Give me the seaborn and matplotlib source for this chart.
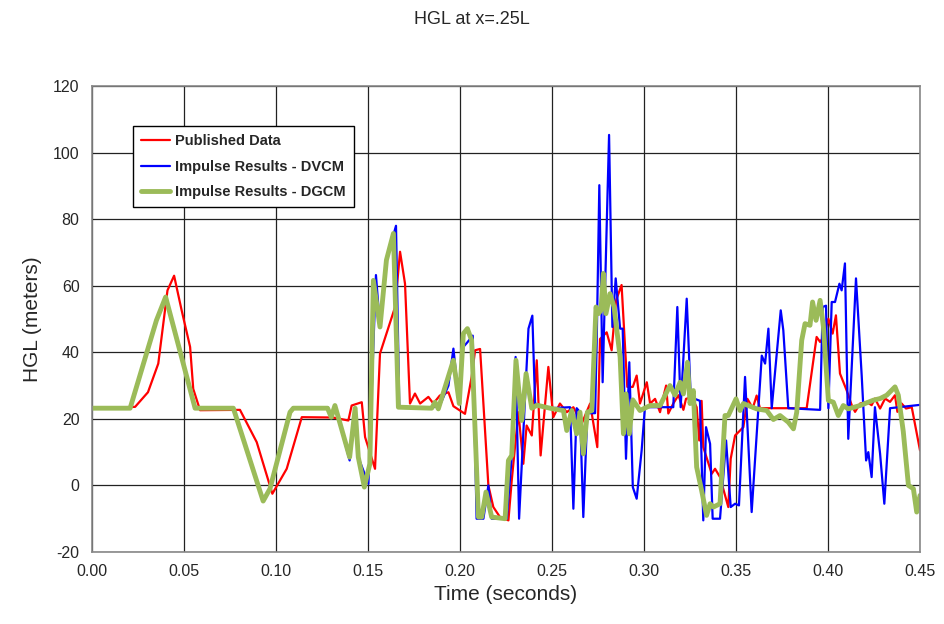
import numpy as np
import matplotlib
matplotlib.use("Agg")
import matplotlib.pyplot as plt
import seaborn as sns

# Published data (red)
t_pub = [0.0, 0.0234, 0.0304, 0.036, 0.041, 0.0446, 0.0487, 0.0533, 0.055, 0.0587,
         0.0804, 0.0895, 0.098, 0.1058, 0.114, 0.131, 0.1393, 0.1411, 0.1466, 0.1484,
         0.1538, 0.1565, 0.1647, 0.1674, 0.1701, 0.1719, 0.1728, 0.1755, 0.1783, 0.1828,
         0.1855, 0.189, 0.1937, 0.1964, 0.2027, 0.2063, 0.2082, 0.2109, 0.2154, 0.2181,
         0.2217, 0.2263, 0.2281, 0.2317, 0.2344, 0.2362, 0.239, 0.2417, 0.2438, 0.248,
         0.2507, 0.2543, 0.258, 0.2616, 0.2661, 0.2707, 0.2746, 0.2761, 0.2797, 0.2824,
         0.2848, 0.2878, 0.2909, 0.2939, 0.296, 0.2978, 0.3015, 0.3033, 0.306, 0.3087,
         0.3105, 0.312, 0.3132, 0.3159, 0.3187, 0.3214, 0.3228, 0.3259, 0.3286, 0.33,
         0.3313, 0.3322, 0.3368, 0.3386, 0.3413, 0.3458, 0.3471, 0.3495, 0.354, 0.3562,
         0.3591, 0.3612, 0.363, 0.3884, 0.3938, 0.3957, 0.3975, 0.4002, 0.4025, 0.4043,
         0.4065, 0.4101, 0.4129, 0.4147, 0.4174, 0.421, 0.4237, 0.4255, 0.4283, 0.431,
         0.4337, 0.4364, 0.4377, 0.44, 0.4424, 0.4455, 0.45]
hgl_pub = [23.2, 23.6, 28.0, 36.6, 58.6, 63.0, 52.6, 41.6, 29.0, 22.6,
           22.7, 13.0, -2.5, 5.0, 20.5, 20.4, 19.5, 24.0, 25.0, 14.5,
           5.0, 39.6, 53.6, 70.2, 60.6, 36.6, 24.6, 27.6, 24.6, 26.6,
           24.6, 27.0, 28.0, 23.8, 21.5, 32.6, 40.6, 41.0, 0.0, -6.5,
           -9.5, -10.5, 1.5, 22.0, 6.5, 18.0, 15.0, 37.6, 9.0, 35.6,
           20.5, 24.6, 22.0, 23.5, 18.5, 24.6, 11.5, 44.0, 46.0, 40.6,
           55.6, 60.2, 29.6, 29.6, 33.0, 24.6, 31.0, 24.6, 26.0, 22.0,
           26.6, 30.0, 21.6, 24.6, 27.1, 22.7, 26.0, 26.6, 23.5, 13.5,
           25.4, 11.5, 3.5, 5.0, 2.5, -6.5, 8.0, 15.0, 17.5, 26.0,
           23.2, 27.0, 23.2, 23.2, 44.6, 43.1, 44.6, 50.1, 45.6, 51.1,
           33.6, 28.6, 24.1, 22.1, 24.6, 25.1, 24.1, 26.1, 23.1, 26.1,
           25.1, 27.1, 22.1, 24.6, 23.1, 23.5, 10.5]

# Impulse results - DVCM (blue)
t_dvcm = [0.0, 0.0207, 0.035, 0.040, 0.056, 0.0768, 0.093, 0.0967, 0.1076, 0.1094,
          0.128, 0.130, 0.132, 0.140, 0.143, 0.1447, 0.1502, 0.1543, 0.1565, 0.160,
          0.1652, 0.167, 0.1855, 0.189, 0.1937, 0.1964, 0.1996, 0.2018, 0.204, 0.2069,
          0.209, 0.2127, 0.2154, 0.2172, 0.2254, 0.2281, 0.2302, 0.2321, 0.2372, 0.2393,
          0.2408, 0.249, 0.2598, 0.2616, 0.2634, 0.2652, 0.267, 0.2692, 0.2734, 0.2743,
          0.2757, 0.2775, 0.281, 0.2828, 0.2846, 0.287, 0.2884, 0.2902, 0.292, 0.2939,
          0.296, 0.2987, 0.3005, 0.3159, 0.3181, 0.3199, 0.3232, 0.3254, 0.3304, 0.3322,
          0.3337, 0.3359, 0.3373, 0.3413, 0.3446, 0.3471, 0.3495, 0.3516, 0.3549, 0.3585,
          0.364, 0.3658, 0.3676, 0.3694, 0.3743, 0.3757, 0.3784, 0.3957, 0.3971, 0.3989,
          0.4002, 0.402, 0.4038, 0.4062, 0.4074, 0.4092, 0.411, 0.4152, 0.4183, 0.4207,
          0.4219, 0.4237, 0.4255, 0.4283, 0.4306, 0.4337, 0.45]
hgl_dvcm = [23.2, 23.2, 49.6, 56.6, 23.2, 23.2, -4.7, -1.0, 22.0, 23.5,
            23.5, 20.5, 24.0, 7.5, 23.2, 8.5, 0.5, 63.2, 47.6, 67.7,
            78.0, 23.5, 23.5, 24.0, 30.0, 41.1, 24.6, 41.6, 43.0, 45.0,
            -10.0, -10.0, 0.0, -10.0, -10.0, 8.5, 38.6, -10.0, 47.1, 51.0,
            24.6, 23.2, 23.5, -7.0, 23.2, 22.0, -9.5, 21.7, 21.7, 43.6,
            90.2, 31.0, 105.3, 47.6, 62.2, 47.1, 47.1, 8.0, 37.0, -0.5,
            -4.0, 10.5, 23.5, 23.5, 53.6, 23.5, 56.1, 26.5, 25.4, -10.5,
            17.5, 12.5, -10.0, -10.0, 13.5, -6.5, -5.5, -6.0, 32.6, -8.0,
            39.0, 36.6, 47.1, 23.2, 52.6, 46.6, 23.2, 22.7, 53.6, 54.0,
            23.2, 55.1, 55.1, 60.6, 58.6, 66.7, 14.0, 62.2, 33.0, 7.5,
            10.0, 2.5, 23.5, 9.5, -5.5, 23.2, 24.2]

# Impulse results - DGCM (green)
t_dgcm = [0.0, 0.0207, 0.035, 0.040, 0.056, 0.0768, 0.093, 0.0967, 0.1076, 0.1094,
          0.128, 0.130, 0.132, 0.140, 0.143, 0.1447, 0.148, 0.151, 0.1529, 0.1565,
          0.160, 0.1638, 0.1665, 0.1846, 0.1864, 0.1882, 0.1964, 0.1996, 0.2018, 0.204,
          0.2063, 0.21, 0.2118, 0.2141, 0.2172, 0.2245, 0.2263, 0.2281, 0.2304, 0.2335,
          0.2359, 0.239, 0.2418, 0.2489, 0.2507, 0.2562, 0.258, 0.2607, 0.2634, 0.2652,
          0.267, 0.2692, 0.2716, 0.2739, 0.2752, 0.2766, 0.2779, 0.2793, 0.2815, 0.2837,
          0.287, 0.2888, 0.2902, 0.292, 0.2939, 0.2978, 0.3033, 0.3087, 0.3141, 0.3168,
          0.3196, 0.3214, 0.3236, 0.325, 0.3268, 0.3286, 0.3313, 0.334, 0.3359, 0.3377,
          0.3413, 0.344, 0.3458, 0.35, 0.3522, 0.354, 0.3612, 0.3667, 0.3703, 0.3739,
          0.3784, 0.3812, 0.383, 0.3857, 0.3875, 0.3902, 0.3916, 0.3935, 0.3957, 0.3975,
          0.4002, 0.4029, 0.4056, 0.4083, 0.411, 0.4174, 0.4246, 0.4283, 0.4319, 0.4364,
          0.4382, 0.4409, 0.4437, 0.4464, 0.4482, 0.45]
hgl_dgcm = [23.2, 23.2, 49.6, 56.6, 23.2, 23.2, -4.7, -1.0, 22.0, 23.2,
            23.2, 20.5, 24.0, 8.5, 23.2, 8.5, -0.5, 6.5, 61.6, 47.6,
            67.7, 75.7, 23.5, 23.2, 25.0, 23.0, 37.6, 24.6, 45.6, 47.1,
            43.6, -9.5, -9.5, -2.0, -9.5, -10.0, 7.5, 9.0, 37.6, 19.5,
            33.6, 23.2, 24.1, 23.2, 23.0, 22.5, 16.5, 22.5, 15.5, 22.0,
            9.5, 22.0, 22.5, 53.6, 51.6, 52.6, 63.7, 51.6, 57.6, 53.6,
            38.6, 15.5, 27.5, 15.5, 25.7, 22.5, 24.0, 24.0, 30.0, 27.1,
            31.0, 27.5, 37.0, 24.6, 28.5, 5.5, -1.5, -9.0, -5.5, -6.5,
            -5.5, 21.0, 21.0, 26.0, 22.5, 24.6, 23.0, 22.5, 19.8, 21.0,
            19.0, 17.0, 22.0, 43.6, 48.6, 48.1, 55.1, 49.6, 55.6, 47.6,
            25.5, 25.0, 21.0, 24.0, 23.0, 24.0, 25.6, 26.1, 27.1, 29.6,
            27.1, 16.2, 0.0, -1.0, -8.0, -3.0]

sns.set_style("white")
plt.rcParams['font.family'] = ['Liberation Sans', 'DejaVu Sans']
plt.rcParams['axes.unicode_minus'] = False

fig = plt.figure(figsize=(9.44, 6.24), dpi=100)
ax = fig.add_axes([0.0975, 0.1154, 0.8771, 0.7468])

sns.lineplot(x=t_pub, y=hgl_pub, ax=ax, color='#FF0000', linewidth=1.6,
             estimator=None, label='Published Data')
sns.lineplot(x=t_dvcm, y=hgl_dvcm, ax=ax, color='#0000FF', linewidth=1.6,
             estimator=None, label='Impulse Results - DVCM')
sns.lineplot(x=t_dgcm, y=hgl_dgcm, ax=ax, color='#9BBB59', linewidth=3.5,
             estimator=None, label='Impulse Results - DGCM')

ax.set_xlim(0, 0.45)
ax.set_ylim(-20, 120)
ax.set_xticks(np.arange(0, 0.451, 0.05))
ax.set_yticks(np.arange(-20, 121, 20))
ax.set_xticklabels([f"{v:.2f}" for v in np.arange(0, 0.451, 0.05)])
ax.grid(True, color='#222222', linewidth=0.9)
ax.set_axisbelow(True)
for s in ax.spines.values():
    s.set_color('#888888')
    s.set_linewidth(1.2)
ax.tick_params(axis='both', direction='out', length=5, color='#888888',
               labelsize=11.5, pad=4)
ax.set_xlabel('Time (seconds)', fontsize=15, labelpad=4)
ax.set_ylabel('HGL (meters)', fontsize=15, labelpad=8)
fig.suptitle('HGL at x=.25L', fontsize=13, y=0.982)

leg = ax.legend(loc='upper left', bbox_to_anchor=(0.0495, 0.914), borderaxespad=0,
                fancybox=False, edgecolor='black', framealpha=1,
                prop={'weight': 'bold', 'size': 10.5},
                handlelength=2.0, borderpad=0.55, labelspacing=0.8, handletextpad=0.35)
leg.get_frame().set_linewidth(1.0)

fig.savefig('out.png', dpi=100)
